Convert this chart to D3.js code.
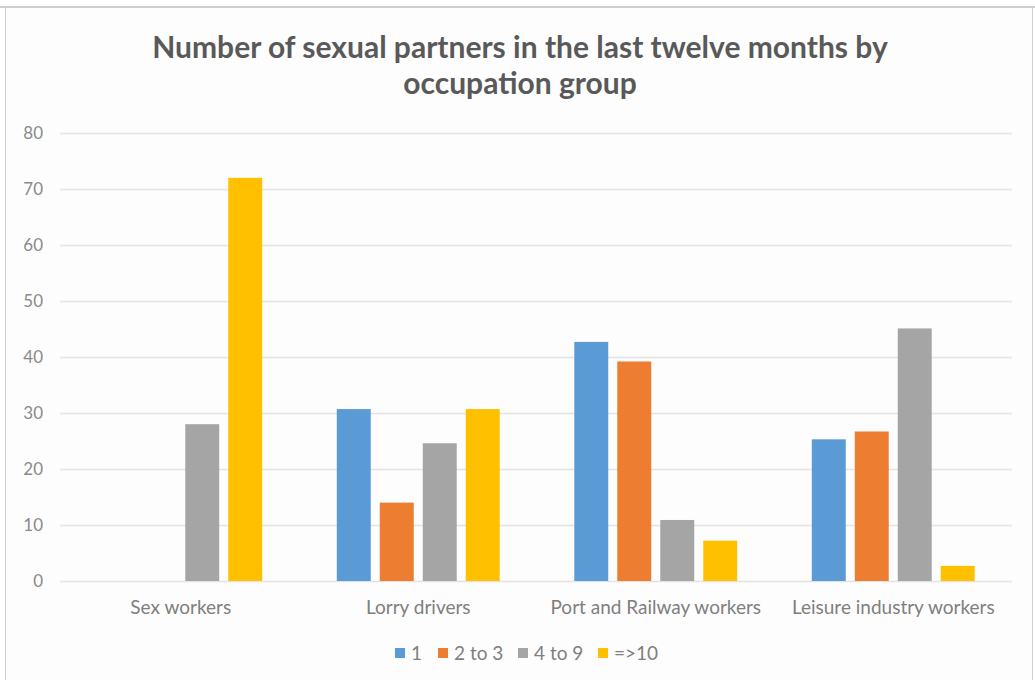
<!DOCTYPE html>
<html>
<head>
<meta charset="utf-8">
<script src="https://cdn.jsdelivr.net/npm/d3@7"></script>
<style>
  html, body { margin: 0; padding: 0; background: #ffffff; }
  svg { display: block; }
  text { font-family: Lato, "Open Sans", sans-serif; }
</style>
</head>
<body>
<svg id="chart" width="1035" height="680"></svg>
<script>
// Occupation groups on the x axis
const categories = ["Sex workers", "Lorry drivers", "Port and Railway workers", "Leisure industry workers"];
// Partner-count bands (series)
const seriesNames = ["1", "2 to 3", "4 to 9", "=>10"];
const seriesColors = ["#5b9bd5", "#ed7d31", "#a5a5a5", "#ffc000"];
// Values per series, one per occupation group (null = no bar)
const s1 = [null, 30.7, 42.7, 25.3];
const s2to3 = [null, 14.0, 39.2, 26.7];
const s4to9 = [28.0, 24.6, 10.9, 45.1];
const s10plus = [72.0, 30.7, 7.2, 2.7];
const yTicks = [0, 10, 20, 30, 40, 50, 60, 70, 80];
const titleLines = ["Number of sexual partners in the last twelve months by", "occupation group"];

const seriesValues = [s1, s2to3, s4to9, s10plus];

const svg = d3.select("#chart");
const W = 1035, H = 680;

// chart frame
svg.append("rect").attr("x", 0).attr("y", 0).attr("width", W).attr("height", H).attr("fill", "#ffffff");
svg.append("rect").attr("x", 5.5).attr("y", 7.5).attr("width", W - 8).attr("height", H - 4)
  .attr("fill", "#fdfdfd").attr("stroke", "#d0d0d0").attr("stroke-width", 1);
svg.append("line").attr("x1", 0).attr("x2", W).attr("y1", 7).attr("y2", 7)
  .attr("stroke", "#cfcfcf").attr("stroke-width", 2);

const plot = { left: 62, right: 1012, top: 133, bottom: 581 };

const y = d3.scaleLinear().domain([0, 80]).range([plot.bottom, plot.top]);
const x0 = d3.scaleBand().domain(categories).range([plot.left, plot.right])
  .paddingInner(0.314).paddingOuter(0.157);
const x1 = d3.scaleBand().domain(seriesNames).range([0, x0.bandwidth()])
  .paddingInner(0.21).paddingOuter(0);

// gridlines
svg.append("g")
  .selectAll("line").data(yTicks).join("line")
  .attr("x1", plot.left - 2).attr("x2", plot.right)
  .attr("y1", d => y(d) + 0.5).attr("y2", d => y(d) + 0.5)
  .attr("stroke", "#e3e3e3").attr("stroke-width", 1.5);

// y axis labels
const yAxis = d3.axisLeft(y).tickValues(yTicks).tickSize(0).tickPadding(0);
const gy = svg.append("g").attr("transform", `translate(43,0)`).call(yAxis);
gy.select(".domain").remove();
gy.selectAll("text").attr("fill", "#8a8a8a").style("font-size", "17px")
  .style("font-family", "Lato, sans-serif").attr("dy", "0.3em");

// bars
const groups = svg.append("g").selectAll("g").data(categories).join("g")
  .attr("transform", d => `translate(${x0(d)},0)`);
groups.selectAll("rect")
  .data((c, ci) => seriesNames.map((s, si) => ({ s, si, v: seriesValues[si][ci] })).filter(d => d.v != null))
  .join("rect")
  .attr("x", d => x1(d.s))
  .attr("width", x1.bandwidth())
  .attr("y", d => y(d.v))
  .attr("height", d => y(0) - y(d.v))
  .attr("fill", d => seriesColors[d.si]);

// x axis labels
const xAxis = d3.axisBottom(x0).tickSize(0).tickPadding(0);
const gx = svg.append("g").attr("transform", `translate(0,${plot.bottom})`).call(xAxis);
gx.select(".domain").remove();
gx.selectAll("text").attr("fill", "#7f7f7f").style("font-size", "19px")
  .style("font-family", "Lato, sans-serif").attr("y", 26).attr("dy", "0.35em");

// title
svg.append("g").selectAll("text").data(titleLines).join("text")
  .attr("x", 520).attr("y", (d, i) => 58 + i * 36)
  .attr("text-anchor", "middle")
  .attr("fill", "#595959")
  .style("font-size", "30px").style("font-weight", "700")
  .text(d => d);

// legend
const legendX = [395, 438, 518, 598];
const lg = svg.append("g").selectAll("g").data(seriesNames).join("g")
  .attr("transform", (d, i) => `translate(${legendX[i]},653)`);
lg.append("rect").attr("x", 0).attr("y", -5).attr("width", 10).attr("height", 10)
  .attr("fill", (d, i) => seriesColors[i]);
lg.append("text").attr("x", 16).attr("y", 0).attr("dy", "0.35em")
  .attr("fill", "#7f7f7f").style("font-size", "19px").text(d => d);
</script>
</body>
</html>
